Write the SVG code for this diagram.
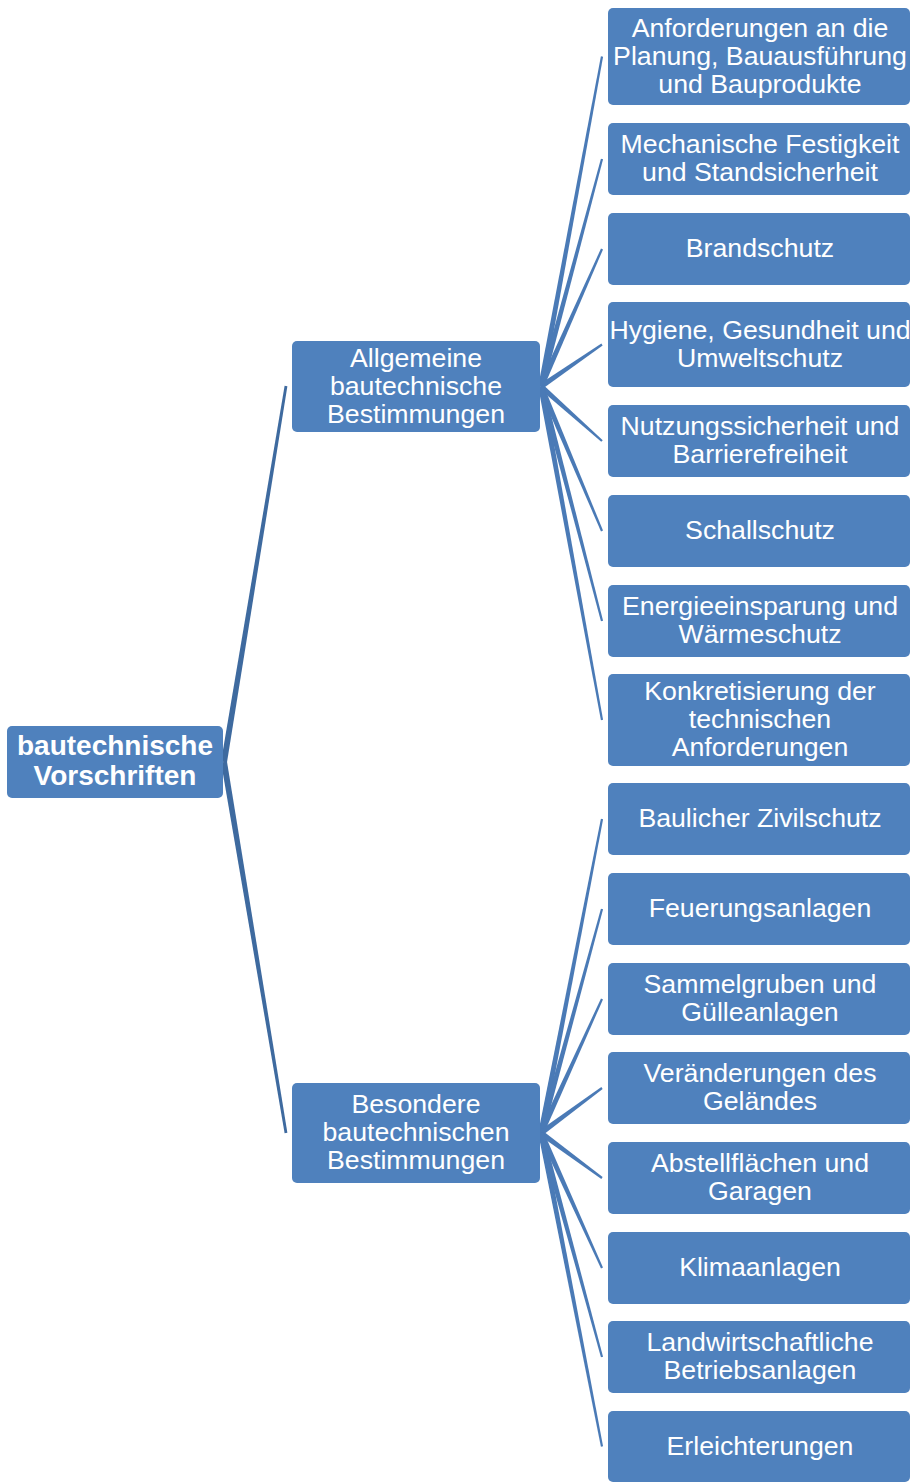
<svg xmlns="http://www.w3.org/2000/svg" width="911" height="1482" viewBox="0 0 911 1482">
  <style>
    .box { fill: #4F81BD; }
    .lbl { fill: #FFFFFF; font-family: "Liberation Sans", Arial, sans-serif; font-size: 26.7px; text-anchor: middle; }
    .root { font-size: 28px; font-weight: bold; }
    .c1 { fill: #3E6A9F; }
    .c2 { fill: #4A7AB6; }
  </style>
  <rect width="911" height="1482" fill="#FFFFFF"/>

  <!-- tapered connectors: wide at the parent, narrowing towards the child -->
  <g id="connectors">
    <polygon class="c1" points="226.96,762.49 287.38,386.23 284.62,385.77 221.04,761.51"/>
    <polygon class="c1" points="221.04,762.5 284.62,1133.23 287.38,1132.77 226.96,761.5"/>

    <polygon class="c2" points="543.75,387.01 603.08,56.7 600.92,56.3 538.25,385.99"/>
    <polygon class="c2" points="543.7,387.23 603.06,159.29 600.94,158.72 538.3,385.78"/>
    <polygon class="c2" points="543.56,387.64 603.0,249.45 601.0,248.55 538.44,385.36"/>
    <polygon class="c2" points="542.59,388.81 602.62,345.41 601.38,343.59 539.41,384.19"/>
    <polygon class="c2" points="539.13,388.59 601.27,441.82 602.73,440.18 542.87,384.41"/>
    <polygon class="c2" points="538.42,387.59 600.99,531.43 603.01,530.57 543.58,385.41"/>
    <polygon class="c2" points="538.29,387.2 600.94,621.28 603.07,620.72 543.71,385.8"/>
    <polygon class="c2" points="538.25,387.0 600.92,720.2 603.08,719.8 543.75,386.0"/>

    <polygon class="c2" points="543.75,1133.53 603.08,819.21 600.92,818.79 538.25,1132.47"/>
    <polygon class="c2" points="543.7,1133.74 603.06,909.29 600.94,908.71 538.3,1132.26"/>
    <polygon class="c2" points="543.55,1134.16 603.0,999.46 601.0,998.54 538.45,1131.84"/>
    <polygon class="c2" points="542.66,1135.25 602.65,1088.89 601.35,1087.12 539.34,1130.75"/>
    <polygon class="c2" points="539.34,1135.25 601.35,1178.89 602.65,1177.12 542.66,1130.75"/>
    <polygon class="c2" points="538.45,1134.15 601.0,1268.45 603.0,1267.55 543.55,1131.85"/>
    <polygon class="c2" points="538.3,1133.74 600.94,1357.29 603.06,1356.71 543.7,1132.26"/>
    <polygon class="c2" points="538.25,1133.53 600.92,1446.71 603.08,1446.29 543.75,1132.47"/>
  </g>

  <!-- root -->
  <g id="n-root">
    <rect class="box" x="7" y="726" width="216" height="72" rx="5"/>
    <text class="lbl root" x="115" y="755">bautechnische</text>
    <text class="lbl root" x="115" y="785">Vorschriften</text>
  </g>

  <!-- second level -->
  <g id="n-allgemeine">
    <rect class="box" x="292" y="341" width="248" height="91" rx="5"/>
    <text class="lbl" x="416" y="366.5">Allgemeine</text>
    <text class="lbl" x="416" y="394.5">bautechnische</text>
    <text class="lbl" x="416" y="422.5">Bestimmungen</text>
  </g>
  <g id="n-besondere">
    <rect class="box" x="292" y="1083" width="248" height="100" rx="5"/>
    <text class="lbl" x="416" y="1113">Besondere</text>
    <text class="lbl" x="416" y="1141">bautechnischen</text>
    <text class="lbl" x="416" y="1169">Bestimmungen</text>
  </g>

  <!-- leaves -->
  <g id="n-anforderungen">
    <rect class="box" x="608" y="8" width="302" height="97" rx="5"/>
    <text class="lbl" x="760" y="36.5">Anforderungen an die</text>
    <text class="lbl" x="760" y="64.5">Planung, Bauausführung</text>
    <text class="lbl" x="760" y="92.5">und Bauprodukte</text>
  </g>
  <g id="n-mechanik">
    <rect class="box" x="608" y="123" width="302" height="72" rx="5"/>
    <text class="lbl" x="760" y="153">Mechanische Festigkeit</text>
    <text class="lbl" x="760" y="181">und Standsicherheit</text>
  </g>
  <g id="n-brandschutz">
    <rect class="box" x="608" y="213" width="302" height="72" rx="5"/>
    <text class="lbl" x="760" y="257">Brandschutz</text>
  </g>
  <g id="n-hygiene">
    <rect class="box" x="608" y="302" width="302" height="85" rx="5"/>
    <text class="lbl" x="760" y="338.5">Hygiene, Gesundheit und</text>
    <text class="lbl" x="760" y="366.5">Umweltschutz</text>
  </g>
  <g id="n-nutzung">
    <rect class="box" x="608" y="405" width="302" height="72" rx="5"/>
    <text class="lbl" x="760" y="435">Nutzungssicherheit und</text>
    <text class="lbl" x="760" y="463">Barrierefreiheit</text>
  </g>
  <g id="n-schallschutz">
    <rect class="box" x="608" y="495" width="302" height="72" rx="5"/>
    <text class="lbl" x="760" y="539">Schallschutz</text>
  </g>
  <g id="n-energie">
    <rect class="box" x="608" y="585" width="302" height="72" rx="5"/>
    <text class="lbl" x="760" y="615">Energieeinsparung und</text>
    <text class="lbl" x="760" y="643">Wärmeschutz</text>
  </g>
  <g id="n-konkretisierung">
    <rect class="box" x="608" y="674" width="302" height="92" rx="5"/>
    <text class="lbl" x="760" y="700">Konkretisierung der</text>
    <text class="lbl" x="760" y="728">technischen</text>
    <text class="lbl" x="760" y="756">Anforderungen</text>
  </g>
  <g id="n-zivilschutz">
    <rect class="box" x="608" y="783" width="302" height="72" rx="5"/>
    <text class="lbl" x="760" y="827">Baulicher Zivilschutz</text>
  </g>
  <g id="n-feuerung">
    <rect class="box" x="608" y="873" width="302" height="72" rx="5"/>
    <text class="lbl" x="760" y="917">Feuerungsanlagen</text>
  </g>
  <g id="n-sammelgruben">
    <rect class="box" x="608" y="963" width="302" height="72" rx="5"/>
    <text class="lbl" x="760" y="993">Sammelgruben und</text>
    <text class="lbl" x="760" y="1021">Gülleanlagen</text>
  </g>
  <g id="n-gelaende">
    <rect class="box" x="608" y="1052" width="302" height="72" rx="5"/>
    <text class="lbl" x="760" y="1082">Veränderungen des</text>
    <text class="lbl" x="760" y="1110">Geländes</text>
  </g>
  <g id="n-abstellflaechen">
    <rect class="box" x="608" y="1142" width="302" height="72" rx="5"/>
    <text class="lbl" x="760" y="1172">Abstellflächen und</text>
    <text class="lbl" x="760" y="1200">Garagen</text>
  </g>
  <g id="n-klima">
    <rect class="box" x="608" y="1232" width="302" height="72" rx="5"/>
    <text class="lbl" x="760" y="1276">Klimaanlagen</text>
  </g>
  <g id="n-landwirtschaft">
    <rect class="box" x="608" y="1321" width="302" height="72" rx="5"/>
    <text class="lbl" x="760" y="1351">Landwirtschaftliche</text>
    <text class="lbl" x="760" y="1379">Betriebsanlagen</text>
  </g>
  <g id="n-erleichterungen">
    <rect class="box" x="608" y="1411" width="302" height="71" rx="5"/>
    <text class="lbl" x="760" y="1454.5">Erleichterungen</text>
  </g>
</svg>
